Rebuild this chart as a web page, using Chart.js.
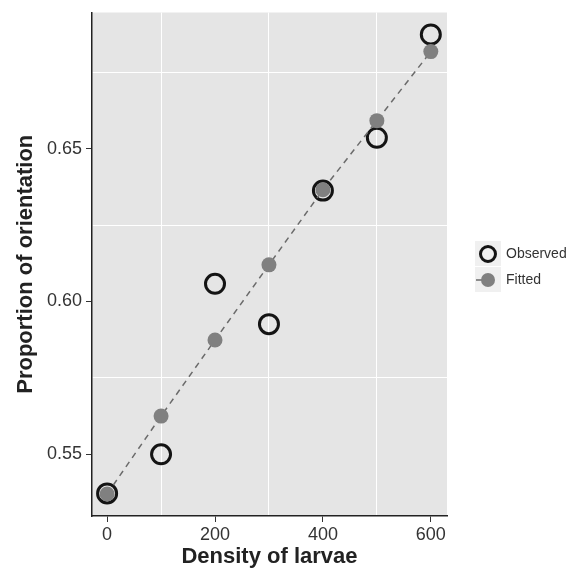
<!DOCTYPE html>
<html>
<head>
<meta charset="utf-8">
<script src="https://cdn.jsdelivr.net/npm/chart.js@4"></script>
<style>
  html, body { margin: 0; padding: 0; background: #fff; }
  #wrap { width: 575px; height: 571px; }
</style>
</head>
<body>
<div id="wrap"><canvas id="chart" width="575" height="571"></canvas></div>
<script>
// --- data ---
const density = [0, 100, 200, 300, 400, 500, 600];
const observed = [0.5372, 0.5500, 0.6058, 0.5926, 0.6363, 0.6536, 0.6874];
const fitted = [0.5370, 0.5625, 0.5874, 0.6120, 0.6366, 0.6592, 0.6818];
const seriesNames = ['Observed', 'Fitted'];

const xMajor = [0, 200, 400, 600];
const xMinor = [100, 300, 500];
const xTickLabels = ['0', '200', '400', '600'];
const yMajor = [0.55, 0.60, 0.65];
const yMinor = [0.575, 0.625, 0.675];
const yTickLabels = ['0.55', '0.60', '0.65'];

const xTitle = 'Density of larvae';
const yTitle = 'Proportion of orientation';

const FONT = '"Liberation Sans", Arial, Helvetica, sans-serif';

function majorIndex(list, v) {
    return list.findIndex(m => Math.abs(m - v) < 1e-6);
}

function toPoints(ys) {
    return density.map((x, i) => ({ x: x, y: ys[i] }));
}

// grey panel behind the plot
const panelBg = {
    id: 'panelBg',
    beforeDraw(chart) {
        const { ctx, chartArea: a } = chart;
        ctx.save();
        ctx.fillStyle = '#e5e5e5';
        ctx.fillRect(a.left, a.top, a.right - a.left, a.bottom - a.top);
        ctx.restore();
    }
};

// ggplot style legend on the right
const sideLegend = {
    id: 'sideLegend',
    afterDraw(chart) {
        const { ctx } = chart;
        const ds = chart.data.datasets;
        const keyX = 475, keyW = 26, keyH = 26, top = 241;
        ctx.save();
        ds.forEach((d, i) => {
            const y0 = top + i * keyH;
            const cx = keyX + keyW / 2, cy = y0 + keyH / 2;
            ctx.fillStyle = '#f0f0f0';
            ctx.fillRect(keyX, y0, keyW, keyH - 1);
            if (d.showLine) {
                ctx.strokeStyle = d.borderColor;
                ctx.lineWidth = d.borderWidth;
                ctx.setLineDash([]);
                ctx.beginPath();
                ctx.moveTo(keyX + 1, cy);
                ctx.lineTo(cx, cy);
                ctx.stroke();
            }
            ctx.beginPath();
            ctx.arc(cx, cy, d.showLine ? 7 : 7.5, 0, Math.PI * 2);
            if (d.pointBackgroundColor !== 'transparent') {
                ctx.fillStyle = d.pointBackgroundColor;
                ctx.fill();
            }
            if (d.pointBorderWidth > 0) {
                ctx.strokeStyle = d.pointBorderColor;
                ctx.lineWidth = d.pointBorderWidth;
                ctx.stroke();
            }
            ctx.fillStyle = '#333';
            ctx.font = '14px ' + FONT;
            ctx.textBaseline = 'middle';
            ctx.textAlign = 'left';
            ctx.fillText(d.label, keyX + keyW + 5, cy);
        });
        ctx.restore();
    }
};

new Chart(document.getElementById('chart'), {
    type: 'scatter',
    data: {
        datasets: [
            {
                label: seriesNames[0],
                data: toPoints(observed),
                showLine: false,
                pointBackgroundColor: 'transparent',
                pointBorderColor: '#141414',
                pointBorderWidth: 3,
                pointRadius: 9.5,
                order: 1
            },
            {
                label: seriesNames[1],
                data: toPoints(fitted),
                showLine: true,
                borderColor: '#6b6b6b',
                borderWidth: 1.5,
                borderDash: [6, 5],
                pointBackgroundColor: '#808080',
                pointBorderColor: '#808080',
                pointBorderWidth: 0,
                pointRadius: 7.5,
                order: 0
            }
        ]
    },
    options: {
        responsive: false,
        animation: false,
        clip: false,
        layout: { padding: { top: 10, right: 128, left: 0, bottom: 0 } },
        plugins: { legend: { display: false }, tooltip: { enabled: false } },
        scales: {
            x: {
                type: 'linear',
                min: -28,
                max: 630,
                afterFit: s => {
                    s.height = 55;
                    s.paddingLeft = 0;
                    s.paddingRight = 0;
                },
                afterBuildTicks: s => {
                    s.ticks = xMajor.concat(xMinor).sort((a, b) => a - b).map(v => ({ value: v }));
                },
                border: { display: true, color: '#222', width: 1.5 },
                grid: {
                    color: c => majorIndex(xMajor, c.tick.value) >= 0 ? 'rgba(0,0,0,0)' : '#ffffff',
                    tickColor: c => majorIndex(xMajor, c.tick.value) >= 0 ? '#333' : 'rgba(0,0,0,0)',
                    lineWidth: 1,
                    tickLength: 6,
                    drawTicks: true
                },
                ticks: {
                    autoSkip: false,
                    maxRotation: 0,
                    padding: 2,
                    color: '#333',
                    font: { family: FONT, size: 18 },
                    callback: v => {
                        const i = majorIndex(xMajor, v);
                        return i >= 0 ? xTickLabels[i] : '';
                    }
                },
                title: {
                    display: true,
                    text: xTitle,
                    color: '#222',
                    font: { family: FONT, size: 22, weight: 'bold' },
                    padding: { top: 0, bottom: 1 }
                }
            },
            y: {
                type: 'linear',
                min: 0.5298,
                max: 0.6946,
                afterFit: s => {
                    s.width = 92;
                    s.paddingTop = 0;
                    s.paddingBottom = 0;
                },
                afterBuildTicks: s => {
                    s.ticks = yMajor.concat(yMinor).sort((a, b) => a - b).map(v => ({ value: v }));
                },
                border: { display: true, color: '#222', width: 1.5 },
                grid: {
                    color: c => majorIndex(yMajor, c.tick.value) >= 0 ? 'rgba(0,0,0,0)' : '#ffffff',
                    tickColor: c => majorIndex(yMajor, c.tick.value) >= 0 ? '#333' : 'rgba(0,0,0,0)',
                    lineWidth: 1,
                    tickLength: 6,
                    drawTicks: true
                },
                ticks: {
                    autoSkip: false,
                    padding: 4,
                    color: '#333',
                    font: { family: FONT, size: 18 },
                    callback: v => {
                        const i = majorIndex(yMajor, v);
                        return i >= 0 ? yTickLabels[i] : '';
                    }
                },
                title: {
                    display: true,
                    text: yTitle,
                    color: '#222',
                    font: { family: FONT, size: 22, weight: 'bold' },
                    padding: { top: 13, bottom: 0 }
                }
            }
        }
    },
    plugins: [panelBg, sideLegend]
});
</script>
</body>
</html>
